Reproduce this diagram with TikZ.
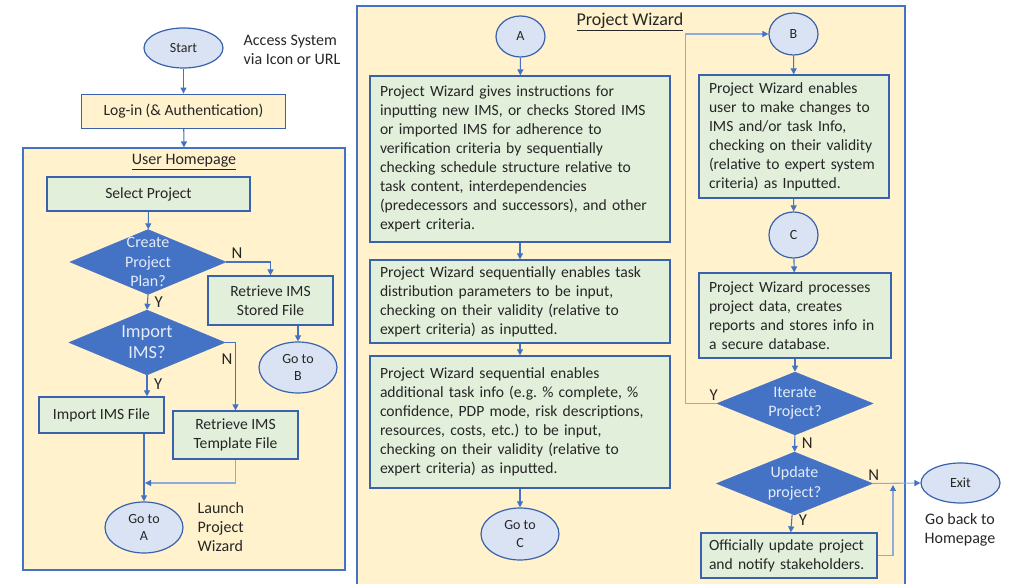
\documentclass[tikz,border=0pt]{standalone}
\usepackage{fontspec}
\setmainfont{Carlito}
\usetikzlibrary{arrows.meta,positioning,shapes.geometric}
\definecolor{hpfill}{HTML}{FFF2CC}
\definecolor{boxfill}{HTML}{E2EFDA}
\definecolor{ovalfill}{HTML}{DAE3F3}
\definecolor{lineblue}{HTML}{4472C4}
\definecolor{edgeblue}{HTML}{3A62AC}
\definecolor{lightblue}{HTML}{8FAADC}
\definecolor{dtxt}{HTML}{E4ECF8}
\definecolor{txt}{HTML}{262626}
\frenchspacing

\begin{document}
\begin{tikzpicture}[x=0.75pt,y=-0.75pt,>={Triangle[width=4.5pt,length=4.5pt]},
  font=\fontsize{11.7}{14.25}\selectfont,text=txt]

\tikzset{
panel/.style={
    draw=lineblue,
    fill=hpfill,
    line width=0.8pt,
    inner sep=0pt
},
stepbox/.style={
    draw=edgeblue,
    fill=boxfill,
    line width=0.9pt,
    align=center,
    inner sep=0pt
},
wbox/.style={
    stepbox,
    align=left,
    inner xsep=7.5pt,
    text width=#1
},
oval/.style={
    ellipse,
    draw=edgeblue,
    fill=ovalfill,
    line width=0.9pt,
    inner sep=0pt,
    align=center,
    font=\fontsize{10.5}{13}\selectfont
},
decision/.style={
    diamond,
    draw=lineblue,
    fill=lineblue,
    inner sep=0pt,
    minimum width=117pt,
    minimum height=48.75pt
},
dlab/.style={
    text=dtxt,
    align=center,
    font=\fontsize{12}{14.6}\selectfont
},
yn/.style={text=txt,font=\fontsize{12.5}{14}\selectfont,inner sep=2pt},
arrow/.style={->,line width=0.8pt,color=lineblue},
thinarrow/.style={-{Triangle[width=4.5pt,length=4.5pt,color=lineblue]},line width=0.8pt,color=lightblue}
}

\useasboundingbox (0,0) rectangle (1015,584);

% containers
\node[panel,minimum width=241.5pt,minimum height=316.5pt] (home) at (184,359) {};
\node[panel,minimum width=411pt,minimum height=445.5pt] (wizard) at (631,303) {};
\node[font=\fontsize{12}{14}\selectfont] (hometitle) at (184,162) {\underline{User Homepage}};
\node[font=\fontsize{13.5}{14}\selectfont] (wiztitle) at (630,22) {\underline{Project Wizard}};

% login column
\node[oval,minimum width=59.25pt,minimum height=30pt] (start) at (183.5,48) {Start};
\node[align=left,anchor=west,font=\fontsize{12}{14.25}\selectfont] (access) at (239,50) {Access System\\via Icon or URL};
\node[stepbox,fill=hpfill,minimum width=153pt,minimum height=25.5pt,below=18.75pt of start] (login) {Log-in (\& Authentication)};

% user homepage
\node[stepbox,minimum width=152.25pt,minimum height=25.5pt] (select) at (148.5,194) {Select Project};
\node[decision,label={[dlab]center:Create\\Project\\Plan?}] (create) at (148,262) {};
\node[decision,label={[dlab,font=\fontsize{13.8}{15.75}\selectfont]center:Import\\IMS?}] (import) at (147,342.5) {};
\node[stepbox,minimum width=93.75pt,minimum height=36.75pt] (stored) at (270.5,300.5) {Retrieve IMS\\Stored File};
\node[oval,minimum width=58.5pt,minimum height=38.25pt] (gotoB) at (298,367.5) {Go to\\B};
\node[stepbox,minimum width=93.75pt,minimum height=27pt] (importfile) at (101.5,415) {Import IMS File};
\node[stepbox,minimum width=93.75pt,minimum height=36pt] (template) at (235.5,435) {Retrieve IMS\\Template File};
\node[oval,minimum width=58.5pt,minimum height=38.25pt] (gotoA) at (144,527.5) {Go to\\A};
\node[align=left,anchor=west,font=\fontsize{12}{14.25}\selectfont] (launch) at (193,527) {Launch\\Project\\Wizard};
\coordinate (join) at (145,483);

% project wizard, first column
\node[oval,minimum width=36.75pt,minimum height=30.75pt] (A) at (520.5,36.5) {A};
\node[wbox=210pt,minimum height=124.5pt] (instr) at (520,159) {Project Wizard gives instructions for\\inputting new IMS, or checks Stored IMS\\or imported IMS for adherence to\\verification criteria by sequentially\\checking schedule structure relative to\\task content, interdependencies\\(predecessors and successors), and other\\expert criteria.};
\node[wbox=210pt,minimum height=62.25pt] (distr) at (520,301.5) {Project Wizard sequentially enables task\\distribution parameters to be input,\\checking on their validity (relative to\\expert criteria) as inputted.};
\node[wbox=210pt,minimum height=99pt] (taskinfo) at (520,422) {Project Wizard sequential enables\\additional task info (e.g. \% complete, \%\\confidence, PDP mode, risk descriptions,\\resources, costs, etc.) to be input,\\checking on their validity (relative to\\expert criteria) as inputted.};
\node[oval,minimum width=58.5pt,minimum height=39pt] (gotoC) at (520,534) {Go to\\C};

% project wizard, second column
\node[oval,minimum width=36.75pt,minimum height=31.5pt] (B) at (793.5,34) {B};
\node[wbox=127.5pt,minimum height=92.25pt] (changes) at (794,136.5) {Project Wizard enables\\user to make changes to\\IMS and/or task Info,\\checking on their validity\\(relative to expert system\\criteria) as Inputted.};
\node[oval,minimum width=36.75pt,minimum height=34.5pt] (C) at (793.5,235) {C};
\node[wbox=129pt,minimum height=63.75pt] (process) at (795,315.5) {Project Wizard processes\\project data, creates\\reports and stores info in\\a secure database.};
\node[decision,minimum height=47.25pt,label={[dlab]center:Iterate\\Project?}] (iterate) at (795,403.5) {};
\node[decision,minimum height=47.25pt,label={[dlab]center:Update\\project?}] (update) at (794.5,483.5) {};
\node[wbox=120pt,inner xsep=6pt,minimum height=33.75pt] (official) at (789,555.5) {Officially update project\\and notify stakeholders.};
\node[oval,minimum width=59.25pt,minimum height=30pt] (exit) at (960.5,483) {Exit};
\node[align=center,font=\fontsize{12}{14.25}\selectfont] (goback) at (960,530) {Go back to\\Homepage};
\coordinate (back) at (893,485);

% connectors
\draw[arrow] (start) -- (login);
\draw[arrow] (login) -- (home.north);
\draw[arrow] (select) -- (create);
\draw[arrow] (create.east) -| node[yn,pos=0.12,above]{N} (stored.north);
\draw[arrow] (create.south) -- node[yn,right,xshift=3pt]{Y} (import.north);
\draw[arrow] (import.east) -| node[yn,pos=0.62,left]{N} (template.north);
\draw[arrow] (import.south) -- node[yn,pos=0.4,right,xshift=3pt]{Y} (import.south |- importfile.north);
\draw[arrow] (gotoA.north |- importfile.south) -- (gotoA.north);
\draw[thinarrow] (template.south) |- (join);
\draw[arrow] (gotoB.north |- stored.south) -- (gotoB.north);

\draw[arrow] (A) -- (instr);
\draw[arrow] (instr) -- (distr);
\draw[arrow] (distr) -- (taskinfo);
\draw[arrow] (taskinfo) -- (gotoC);

\draw[arrow] (B) -- (changes);
\draw[arrow] (changes) -- (C);
\draw[arrow] (C) -- (process);
\draw[arrow] (process) -- (iterate);
\draw[arrow] (iterate) -- node[yn,right,xshift=3pt]{N} (update);
\draw[arrow] (update) -- node[yn,pos=0.3,right,xshift=3pt]{Y} (official);
\draw[thinarrow]
(iterate.west)
-- node[yn,pos=0.1,above]{Y} ++(-31,0)
|- (B.west);
\draw[thinarrow] (update.east) -- node[yn,pos=0.02,above]{N} (exit.west);
\draw[thinarrow] (official.east) -| (back);

\end{tikzpicture}
\end{document}
